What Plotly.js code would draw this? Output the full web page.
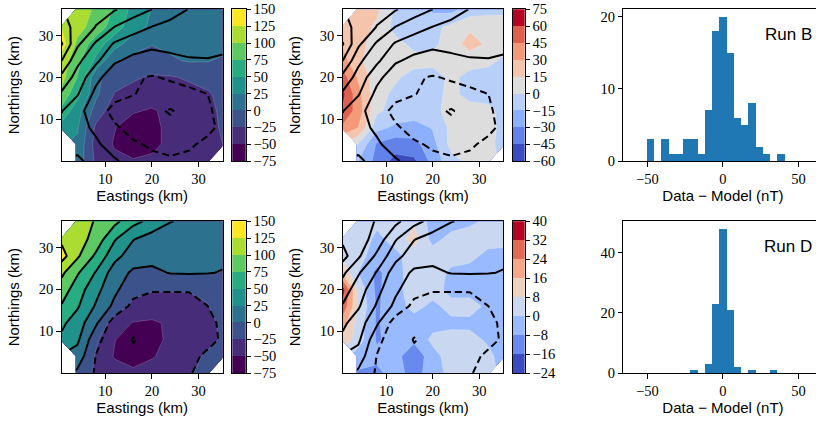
<!DOCTYPE html>
<html><head><meta charset="utf-8">
<script src="https://cdn.plot.ly/plotly-3.0.1.min.js"></script>
<style>html,body{margin:0;padding:0;overflow:hidden;background:#fff;width:816px;height:424px}#chart{width:824px;height:424px}</style>
</head><body><div id="chart"></div><script>
// ---------------- data ----------------
const eastings  = [0.64, 4, 8, 12, 16, 20, 24, 28, 32, 35.2];
const northings = [0, 4, 8, 12, 16, 20, 24, 28, 32, 36.3];

// Run B: anomaly field (nT), rows follow northings
const runB_field = [
  [null,  15, -30, -45, -48, -46, -42, -38, -35, null],
  [null,  20, -35, -52, -62, -55, -45, -40, -35, -25],
  [  40,  28, -30, -49, -60, -55, -45, -38, -33, -22],
  [  68,  35, -10, -40, -48, -52, -45, -38, -32, -20],
  [  92,  58,   5, -26, -33, -40, -38, -33, -28, -18],
  [ 108,  75,   8, -18, -22, -28, -27, -22, -15, -10],
  [ 115,  82,  45,   2,  -8, -10,  -3,   2,   1,  -3],
  [ 135,  95,  62,  35,  12,   1,   5,   8,   8,   7],
  [ 124, 108,  90,  62,  36,  20,  13,  12,  10,   8],
  [null, 110,  97,  72,  42,  24,  18,  14,  12,  12]
];
// Run B: residual (data - model)
const runB_residual = [
  [null, -15, -35, -50, -48, -25,  -5,   4,   2, null],
  [null,   0, -32, -38, -35, -20,   5,   6,   3,  -4],
  [  42,  30, -10, -18, -20, -14,   4,   8,   5,  -4],
  [  58,  38,   3,  -6,  -8,  -4,   5,   6,   4,  -5],
  [  64,  35,   5,  -3,  -6,  -5,   4,  -5,  -6,  -8],
  [  52,  28,   5,   2,  -5,  -6,   3,  -4,  -5,  -6],
  [  36,  18,   6,   3,   5,   4,   6,   5,   3,  -2],
  [  28,  20,   8,   5,  -4,  -3,   6,  22,  12,   6],
  [  25,  22,  12,  -5,  -6,  -4,   4,  12,   6,   4],
  [null,  24,  18,  -3,  -8, -18, -20,  -8,  -3,  -2]
];
// Run B: model field (black contours)
const runB_model = [
  [null,  30,  15,   3, -10, -20, -22, -20, -15, null],
  [null,  16,   4, -12, -22, -28, -32, -28, -20, -12],
  [  18,   9,  -5, -22, -33, -38, -44, -40, -30, -20],
  [  26,   8, -14, -32, -38, -45, -52, -40, -28, -18],
  [  46,  27,  -7, -18, -24, -32, -35, -30, -25, -18],
  [  68,  40,   7, -15, -22, -27, -22, -18, -16, -14],
  [ 100,  56,  30,   3,  -6,  -8,  -5,  -2,  -1,  -3],
  [ 127,  80,  46,  22,  10,   4,   6,   8,   6,   5],
  [ 110,  92,  74,  49,  36,  24,  17,  12,  10,   9],
  [null,  92,  83,  77,  62,  50,  36,  24,  18,  15]
];
// Run D: anomaly field
const runD_field = [
  [null,  -5, -30, -40, -45, -40, -34, -28, -16, null],
  [null,  14, -28, -52, -60, -52, -42, -33, -21, -12],
  [  46,  30, -20, -49, -62, -56, -46, -38, -32, -22],
  [  56,  38,   3, -40, -51, -53, -47, -41, -32, -20],
  [  74,  53,  22,  -7, -32, -37, -36, -35, -26, -15],
  [  90,  62,  33,   4, -16, -23, -23, -23, -20, -12],
  [ 106,  78,  48,  12,  -4,  -4,   2,   2,   2,  -1],
  [ 136, 104,  70,  33,  12,   6,   5,   5,   5,   4],
  [ 121, 112,  90,  52,  26,  14,  10,   8,   8,   8],
  [null, 112,  98,  82,  58,  42,  26,  20,  16,  14]
];
// Run D: residual
const runD_residual = [
  [null,  -9, -10,  -4, -12,  -3,   2,   3,   2, null],
  [null,  -4,  -6,  -5, -14,  -3,   4,   5,   3,  -5],
  [  14,   4,  -9,  -5,  -6,   2,   3,   4,  -2,  -4],
  [  20,   4,  -9,  -3,  -4,  -3,  -2,  -3,  -4,  -3],
  [  30,   8,  -9,  -4,   3,  -2,   3,   5,  -3,  -5],
  [  36,   6, -10,  -2,   3,   4,  -3,  -5,  -4,  -5],
  [  14,   0, -10,  -3,   4,   5,  -2,  -4,  -5,  -4],
  [   6,   3,  -4,  -2,   4,   5,   4,   3,  -3,  -2],
  [   4,   5,  -2,   3,  12,  -3,   3,   5,   4,   2],
  [null,   4,   2,   3,   6,  -3,  -4,  -2,   2,   1]
];
// Run D: model field (black contours)
const runD_model = [
  [null,  -5, -28, -32, -36, -35, -32, -27, -15, null],
  [null,  14, -26, -38, -47, -44, -40, -32, -20, -12],
  [  45,  30, -18, -40, -50.8, -46, -42, -38, -32, -22],
  [  55,  38,   4, -38, -45, -46, -44, -40, -32, -20],
  [  73,  53,  22,  -6, -32, -36, -36, -35, -25, -15],
  [  88,  62,  33,   5, -16, -23, -23, -23, -20, -12],
  [ 105,  78,  48,  12,  -4,  -4,   1,   2,   1,  -1],
  [ 135, 104,  70,  33,  12,   6,   5,   5,   5,   4],
  [ 120, 112,  90,  52,  26,  14,  10,   8,   8,   8],
  [null, 112,  98,  82,  58,  42,  26,  20,  16,  14]
];

const anomalyLevels = [-75, -50, -25, 0, 25, 50, 75, 100, 125, 150];
const residLevelsB  = [-60, -45, -30, -15, 0, 15, 30, 45, 60, 75];
const residLevelsD  = [-24, -16, -8, 0, 8, 16, 24, 32, 40];
const modelLevelsNeg = [-50, -25];
const modelLevelsPos = [0, 25, 50, 75, 100, 125];

const binCenters = [-57.6, -52.8, -48, -43.2, -38.4, -33.6, -28.8, -24, -19.2, -14.4, -9.6, -4.8, 0,
                    4.8, 9.6, 14.4, 19.2, 24, 28.8, 33.6, 38.4, 43.2, 48, 52.8, 57.6];
const runB_counts = [0,0,3,0,3,1,1,3,3,1,7,18,20,15,6,5,8,2,1,0,1,0,0,0,0];
const runD_counts = [0,0,0,0,0,0,0,0,1,0,3,23,48,21,2,0,1,0,0,1,0,0,0,0,0];
const runLabels = ['Run B', 'Run D'];

// ---------------- styles ----------------
const VIRIDIS9  = ['#440154','#472c7a','#3b528b','#2c728e','#21918c','#27ad81','#5ec962','#aadc32','#fde725'];
const COOLWARM9 = ['#3b4cc0','#6282ea','#8db0fe','#b8d0f9','#dddddd','#f5c4ac','#f49a7b','#de604d','#b40426'];
const COOLWARM8 = ['#3b4cc0','#6889ee','#9abaff','#c9d8f0','#edd1c1','#f6a788','#e26953','#b40426'];
const SERIF = 'Liberation Serif, DejaVu Serif, serif';
const SANS = 'Liberation Sans, DejaVu Sans, sans-serif';
const W = 824, H = 424;
const dx = (a, b) => [a / W, b / W];
const dy = (t, b) => [1 - b / H, 1 - t / H];
const ROWS = [dy(9.3, 161), dy(221.3, 373)];
const C_MAP1 = dx(61.7, 222.7), C_CB1 = dx(232.3, 245.7);
const C_MAP2 = dx(342.7, 503.3), C_CB2 = dx(512.7, 524.7);
const C_HIST = dx(623.3, 822.6);

function bandScale(colors, levels) {
  const nc = levels.length;
  const s = [[0, colors[0]]];
  colors.forEach((c, k) => s.push([(k + 1) / nc, c]));
  s.push([1, colors[colors.length - 1]]);
  return s;
}
function fillTrace(z, levels, colors, ax) {
  return {type: 'contour', x: eastings, y: northings, z: z, xaxis: 'x' + ax, yaxis: 'y' + ax,
    autocontour: false, connectgaps: false,
    contours: {start: levels[0], end: levels[levels.length - 1], size: levels[1] - levels[0], coloring: 'fill', showlines: true},
    line: {width: 0.5, color: 'rgba(255,255,255,0.35)', smoothing: 0},
    colorscale: bandScale(colors, levels), showscale: false, hoverinfo: 'skip'};
}
function lineTrace(z, levels, dash, ax) {
  return {type: 'contour', x: eastings, y: northings, z: z, xaxis: 'x' + ax, yaxis: 'y' + ax,
    autocontour: false, connectgaps: false,
    contours: {start: levels[0], end: levels[levels.length - 1], size: levels.length > 1 ? levels[1] - levels[0] : 1, coloring: 'none', showlines: true},
    line: {width: 2, color: '#000', dash: dash, smoothing: 0}, showscale: false, hoverinfo: 'skip'};
}
function cbTrace(levels, colors, ax) {
  return {type: 'bar', x: levels.slice(1).map(() => 0), y: levels.slice(1).map((v, i) => v - levels[i]),
    base: levels.slice(0, -1), width: 1, marker: {color: colors, line: {width: 0}},
    xaxis: 'x' + ax, yaxis: 'y' + ax, hoverinfo: 'skip'};
}
function histTrace(counts, ax) {
  return {type: 'bar', x: binCenters, y: counts, width: binCenters[1] - binCenters[0],
    marker: {color: '#1f77b4', line: {width: 0}}, xaxis: 'x' + ax, yaxis: 'y' + ax, hoverinfo: 'skip'};
}
function base(extra) {
  return Object.assign({showline: true, linecolor: '#000', linewidth: 1, mirror: true, ticks: 'outside',
    ticklen: 4.5, tickwidth: 1, tickcolor: '#000', showgrid: false, zeroline: false, fixedrange: true,
    tickfont: {family: SERIF, size: 14.5, color: '#000'}}, extra);
}
const titleFont = {family: SANS, size: 15, color: '#000'};

const DASH = '7px,4px';
const data = [
  fillTrace(runB_field, anomalyLevels, VIRIDIS9, ''),
  lineTrace(runB_model, modelLevelsPos, 'solid', ''),
  lineTrace(runB_model, modelLevelsNeg, DASH, ''),
  fillTrace(runB_residual, residLevelsB, COOLWARM9, '2'),
  lineTrace(runB_model, modelLevelsPos, 'solid', '2'),
  lineTrace(runB_model, modelLevelsNeg, DASH, '2'),
  histTrace(runB_counts, '3'),
  fillTrace(runD_field, anomalyLevels, VIRIDIS9, '4'),
  lineTrace(runD_model, modelLevelsPos, 'solid', '4'),
  lineTrace(runD_model, modelLevelsNeg, DASH, '4'),
  fillTrace(runD_residual, residLevelsD, COOLWARM8, '5'),
  lineTrace(runD_model, modelLevelsPos, 'solid', '5'),
  lineTrace(runD_model, modelLevelsNeg, DASH, '5'),
  histTrace(runD_counts, '6'),
  cbTrace(anomalyLevels, VIRIDIS9, '7'),
  cbTrace(residLevelsB, COOLWARM9, '8'),
  cbTrace(anomalyLevels, VIRIDIS9, '9'),
  cbTrace(residLevelsD, COOLWARM8, '10')
];

const xr = [eastings[0], eastings[eastings.length - 1]];
const yr = [northings[0], northings[northings.length - 1]];
function mapX(dom, anchor) {
  return base({domain: dom, anchor: anchor, range: xr, tickvals: [10, 20, 30],
    title: {text: 'Eastings (km)', font: titleFont, standoff: 4}});
}
function mapY(dom, anchor) {
  return base({domain: dom, anchor: anchor, range: yr, tickvals: [10, 20, 30],
    title: {text: 'Northings (km)', font: titleFont, standoff: 15}});
}
function cbX(dom, anchor) {
  return {domain: dom, anchor: anchor, range: [-0.5, 0.5], showline: true, linecolor: '#000', linewidth: 1,
    mirror: true, ticks: '', showticklabels: false, showgrid: false, zeroline: false, fixedrange: true};
}
function cbY(dom, anchor, levels) {
  return base({domain: dom, anchor: anchor, side: 'right', range: [levels[0], levels[levels.length - 1]],
    tickvals: levels, ticklen: 4});
}
function histX(dom, anchor) {
  return base({domain: dom, anchor: anchor, range: [-66, 66], tickvals: [-50, 0, 50],
    title: {text: 'Data \u2212 Model (nT)', font: titleFont, standoff: 4}});
}
function histY(dom, anchor, maxCount, ticks) {
  return base({domain: dom, anchor: anchor, range: [0, maxCount * 1.05], tickvals: ticks});
}

const layout = {
  width: W, height: H, margin: {l: 0, r: 0, t: 0, b: 0},
  paper_bgcolor: '#fff', plot_bgcolor: '#fff', showlegend: false,
  barmode: 'overlay', bargap: 0,
  font: {family: SERIF, color: '#000'},
  xaxis: mapX(C_MAP1, 'y'), yaxis: mapY(ROWS[0], 'x'),
  xaxis2: mapX(C_MAP2, 'y2'), yaxis2: mapY(ROWS[0], 'x2'),
  xaxis3: histX(C_HIST, 'y3'), yaxis3: histY(ROWS[0], 'x3', Math.max(...runB_counts), [0, 10, 20]),
  xaxis4: mapX(C_MAP1, 'y4'), yaxis4: mapY(ROWS[1], 'x4'),
  xaxis5: mapX(C_MAP2, 'y5'), yaxis5: mapY(ROWS[1], 'x5'),
  xaxis6: histX(C_HIST, 'y6'), yaxis6: histY(ROWS[1], 'x6', Math.max(...runD_counts), [0, 20, 40]),
  xaxis7: cbX(C_CB1, 'y7'), yaxis7: cbY(ROWS[0], 'x7', anomalyLevels),
  xaxis8: cbX(C_CB2, 'y8'), yaxis8: cbY(ROWS[0], 'x8', residLevelsB),
  xaxis9: cbX(C_CB1, 'y9'), yaxis9: cbY(ROWS[1], 'x9', anomalyLevels),
  xaxis10: cbX(C_CB2, 'y10'), yaxis10: cbY(ROWS[1], 'x10', residLevelsD),
  annotations: runLabels.map((t, i) => ({
    text: t, xref: 'paper', yref: 'paper', x: 813.5 / W, y: 1 - (i === 0 ? 34.5 : 246.5) / H,
    xanchor: 'right', yanchor: 'middle', showarrow: false, font: {family: SANS, size: 17, color: '#000'}
  }))
};

Plotly.newPlot('chart', data, layout, {staticPlot: true, displayModeBar: false});
</script></body></html>
